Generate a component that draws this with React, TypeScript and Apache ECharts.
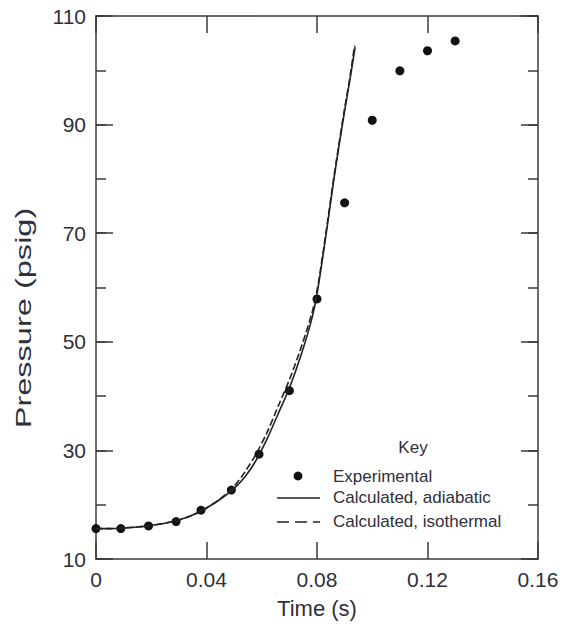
import React, { useEffect, useRef } from "react";
import * as echarts from "echarts";

// Experimental data points
const timeExp = [0, 0.009, 0.019, 0.029, 0.038, 0.049, 0.059, 0.07, 0.08, 0.09, 0.1, 0.11, 0.12, 0.13];
const pressureExp = [15.6, 15.6, 16.1, 16.9, 19.0, 22.7, 29.3, 41.0, 57.9, 75.6, 90.8, 99.9, 103.6, 105.4];

// Calculated, adiabatic
const timeAdi = [0, 0.005, 0.01, 0.015, 0.02, 0.025, 0.03, 0.035, 0.04, 0.045, 0.05, 0.054, 0.058, 0.062, 0.066, 0.07, 0.074, 0.078, 0.08, 0.082, 0.084, 0.086, 0.088, 0.09, 0.092, 0.0938];
const pressureAdi = [15.6, 15.6, 15.7, 15.9, 16.2, 16.6, 17.2, 18.1, 19.4, 21.0, 23.0, 25.2, 28.2, 32.2, 36.8, 41.5, 47.2, 54.0, 58.8, 65.3, 72.3, 79.5, 86.2, 92.5, 98.5, 104.3];

// Calculated, isothermal
const timeIso = [0, 0.005, 0.01, 0.015, 0.02, 0.025, 0.03, 0.035, 0.04, 0.045, 0.05, 0.054, 0.058, 0.062, 0.066, 0.07, 0.074, 0.078, 0.08, 0.082, 0.084, 0.086, 0.088, 0.09, 0.092, 0.0936];
const pressureIso = [15.6, 15.6, 15.7, 15.9, 16.2, 16.6, 17.2, 18.1, 19.4, 21.1, 23.4, 26.1, 29.4, 33.4, 38.2, 43.0, 48.6, 55.0, 59.4, 65.8, 72.8, 80.0, 86.6, 93.0, 99.0, 104.6];

const seriesNames = ["Experimental", "Calculated, adiabatic", "Calculated, isothermal"];
const keyTitle = "Key";
const xTitle = "Time (s)";
const yTitle = "Pressure (psig)";
const yMajorTicks = [10, 30, 50, 70, 90, 110];

const FONT = "Liberation Sans, Arial, sans-serif";
const TXT = "#2f2f3a";
const AX = "#3a3a3a";

export default function App() {
  const ref = useRef<HTMLDivElement>(null);
  useEffect(() => {
    if (!ref.current) return;
    const chart = echarts.init(ref.current, undefined, { renderer: "svg" });
    const axisLine = { show: true, lineStyle: { color: AX, width: 1.5 } };
    const yBase = { type: "value", min: 10, max: 110, interval: 10, splitLine: { show: false } };
    const xBase = { type: "value", min: 0, max: 0.16, interval: 0.04, splitLine: { show: false } };
    chart.setOption({
      animation: false,
      backgroundColor: "#ffffff",
      grid: { left: 96, right: 29, top: 16, bottom: 65 },
      xAxis: [
        {
          ...xBase,
          position: "bottom",
          axisLine,
          axisTick: { show: true, inside: true, length: 17, lineStyle: { color: AX, width: 1.5 } },
          axisLabel: {
            fontSize: 21,
            fontFamily: FONT,
            color: TXT,
            margin: 10,
            formatter: (v: number) => (v === 0 ? "0" : v.toFixed(2)),
          },
          name: xTitle,
          nameLocation: "middle",
          nameGap: 38,
          nameTextStyle: { fontSize: 22, fontFamily: FONT, color: TXT },
        },
        {
          ...xBase,
          position: "top",
          axisLine,
          axisTick: { show: true, inside: true, length: 17, lineStyle: { color: AX, width: 1.5 } },
          axisLabel: { show: false },
        },
      ],
      yAxis: [
        {
          ...yBase,
          position: "left",
          axisLine,
          axisTick: { show: true, inside: true, length: 10, lineStyle: { color: AX, width: 1.5 } },
          axisLabel: {
            fontSize: 21,
            fontFamily: FONT,
            color: TXT,
            margin: 10,
            formatter: (v: number) => (yMajorTicks.includes(Math.round(v)) ? String(Math.round(v)) : ""),
          },
        },
        {
          ...yBase,
          position: "left",
          axisLine: { show: false },
          axisTick: { show: true, inside: true, length: 17, customValues: yMajorTicks, lineStyle: { color: AX, width: 1.5 } },
          axisLabel: { show: false },
        },
        {
          ...yBase,
          position: "right",
          axisLine,
          axisTick: { show: true, inside: true, length: 10, lineStyle: { color: AX, width: 1.5 } },
          axisLabel: { show: false },
        },
        {
          ...yBase,
          position: "right",
          axisLine: { show: false },
          axisTick: { show: true, inside: true, length: 17, customValues: yMajorTicks, lineStyle: { color: AX, width: 1.5 } },
          axisLabel: { show: false },
        },
      ],
      series: [
        {
          name: seriesNames[1],
          type: "line",
          xAxisIndex: 0,
          yAxisIndex: 0,
          showSymbol: false,
          smooth: 0.3,
          data: timeAdi.map((t, i) => [t, pressureAdi[i]]),
          lineStyle: { color: "#222", width: 1.6 },
        },
        {
          name: seriesNames[2],
          type: "line",
          xAxisIndex: 0,
          yAxisIndex: 0,
          showSymbol: false,
          smooth: 0.3,
          data: timeIso.map((t, i) => [t, pressureIso[i]]),
          lineStyle: { color: "#222", width: 1.6, type: [7, 3] },
        },
        {
          name: seriesNames[0],
          type: "scatter",
          xAxisIndex: 0,
          yAxisIndex: 0,
          symbol: "circle",
          symbolSize: 9,
          data: timeExp.map((t, i) => [t, pressureExp[i]]),
          itemStyle: { color: "#111111", opacity: 1 },
        },
      ],
      graphic: [
        {
          type: "text",
          x: 23,
          y: 318,
          rotation: Math.PI / 2,
          scaleX: 1.48,
          style: { text: yTitle, fontSize: 22, fontFamily: FONT, fill: TXT, align: "center", verticalAlign: "middle" },
        },
        {
          type: "text",
          x: 413,
          y: 447,
          style: { text: keyTitle, fontSize: 17, fontFamily: FONT, fill: TXT, align: "center", verticalAlign: "middle" },
        },
        { type: "circle", shape: { cx: 298, cy: 476, r: 4.4 }, style: { fill: "#111111" } },
        {
          type: "text",
          x: 333,
          y: 476,
          style: { text: seriesNames[0], fontSize: 17, fontFamily: FONT, fill: TXT, align: "left", verticalAlign: "middle" },
        },
        { type: "line", shape: { x1: 277, y1: 498, x2: 320, y2: 498 }, style: { stroke: "#222", lineWidth: 1.6 } },
        {
          type: "text",
          x: 333,
          y: 497,
          style: { text: seriesNames[1], fontSize: 17, fontFamily: FONT, fill: TXT, align: "left", verticalAlign: "middle" },
        },
        { type: "line", shape: { x1: 277, y1: 522, x2: 320, y2: 522 }, style: { stroke: "#222", lineWidth: 1.6, lineDash: [12, 6] } },
        {
          type: "text",
          x: 333,
          y: 521,
          style: { text: seriesNames[2], fontSize: 17, fontFamily: FONT, fill: TXT, align: "left", verticalAlign: "middle" },
        },
      ],
    });
    return () => chart.dispose();
  }, []);
  return <div ref={ref} style={{ width: 567, height: 624, position: "absolute", left: 0, top: 0 }} />;
}
